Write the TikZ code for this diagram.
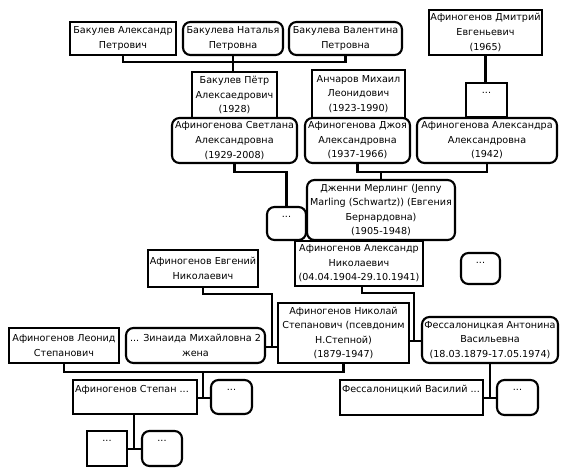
\documentclass[tikz,border=0pt]{standalone}
\usepackage{fontspec}
\setmainfont{DejaVu Sans}
\usetikzlibrary{calc}
\newcommand\fnt{\fontsize{9.6}{14.6}\selectfont}
\tikzset{
  box/.style={draw, line width=2.1pt, inner sep=0pt, outer sep=0pt, align=center, font=\fnt},
  sqbox/.style={box},
  rdbox/.style={box, rounded corners=7.5pt},
  link/.style={line width=2.1pt}
}
\newcommand\bx[7]{\node[#2, minimum width={(#5-#3)*1pt}, minimum height={(#6-#4)*1pt}] (#1) at ({(#3+#5)/2},{(#4+#6)/2}) {#7};}
\newcommand\topleft[3]{\parbox[c][#2pt][t]{#1pt}{\raggedright\strut\mbox{#3}}}
\newcommand\topdots[2]{\parbox[c][#2pt][t]{#1pt}{\centering\strut...}}
\begin{document}
\begin{tikzpicture}[x=1pt,y=-1pt]
\useasboundingbox (0,0) rectangle (568,476);
% generation 1
\bx{A1}{sqbox}{70}{22}{176}{55}{Бакулев Александр\\Петрович}
\bx{A2}{rdbox}{183}{22}{283}{55}{Бакулева Наталья\\Петровна}
\bx{A3}{rdbox}{289}{22}{402}{55}{Бакулева Валентина\\Петровна}
\bx{D1}{sqbox}{429}{10}{542}{55}{Афиногенов Дмитрий\\Евгеньевич\\(1965)}
% generation 2
\bx{B1}{sqbox}{192}{72}{277}{118}{Бакулев Пётр\\Алексаедрович\\(1928)}
\bx{B2}{sqbox}{312}{70}{405}{118}{Анчаров Михаил\\Леонидович\\(1923-1990)}
\bx{D2}{sqbox}{466}{83}{507}{117}{\topdots{40}{33}}
% generation 3
\bx{C1}{rdbox}{172}{118}{297}{163}{Афиногенова Светлана\\Александровна\\(1929-2008)}
\bx{C2}{rdbox}{305}{118}{410}{163}{Афиногенова Джоя\\Александровна\\(1937-1966)}
\bx{C3}{rdbox}{417}{118}{557}{163}{Афиногенова Александра\\Александровна\\(1942)}
% generation 4
\bx{E1}{rdbox}{267}{207}{306}{240}{\topdots{38}{32}}
\bx{E2}{rdbox}{307}{180}{455}{240}{Дженни Мерлинг (Jenny\\Marling (Schwartz)) (Евгения\\Бернардовна)\\(1905-1948)}
% generation 5
\bx{F1}{sqbox}{295}{241}{423}{286}{Афиногенов Александр\\Николаевич\\(04.04.1904-29.10.1941)}
\bx{F2}{rdbox}{461}{253}{500}{284}{\topdots{38}{30}}
\bx{G1}{sqbox}{148}{250}{258}{287}{Афиногенов Евгений\\Николаевич}
% generation 6
\bx{H1}{sqbox}{278}{303}{409}{363}{Афиногенов Николай\\Степанович (псевдоним\\Н.Степной)\\(1879-1947)}
\bx{H2}{rdbox}{422}{317}{558}{363}{Фессалоницкая Антонина\\Васильевна\\(18.03.1879-17.05.1974)}
\bx{I1}{sqbox}{9}{328}{119}{363}{Афиногенов Леонид\\Степанович}
\bx{I2}{rdbox}{126}{328}{265}{363}{... Зинаида Михайловна 2\\жена}
% generation 7
\bx{J1}{sqbox}{73}{380}{197}{414}{\topleft{120}{30}{Афиногенов Степан ...}}
\bx{J2}{rdbox}{211}{380}{252}{414}{\topdots{40}{33}}
\bx{K1}{sqbox}{340}{380}{483}{415}{\topleft{139}{31}{Фессалоницкий Василий ...}}
\bx{K2}{rdbox}{497}{380}{538}{415}{\topdots{40}{34}}
% generation 8
\bx{L1}{sqbox}{87}{431}{127}{466}{\topdots{39}{34}}
\bx{L2}{rdbox}{142}{431}{182}{466}{\topdots{39}{34}}
% connectors
\draw[link] (A1.south) -- ++(0,7) -| (A3.south);
\draw[link] (A2.south) -- (A2.south |- B1.north);
\draw[link] (D1.south) -- (D1.south |- D2.north);
\draw[link] (C1.south) -- ++(0,9) -| (E1.north);
\coordinate (cb) at ($(C2.south)+(0,9)$);
\draw[link] (C2.south) -- (cb) -| (C3.south);
\draw[link] (E2.north) -- (E2.north |- cb);
\coordinate (fb) at (362,293);
\coordinate (fj) at (414,341);
\draw[link] (F1.south -| fb) -- (fb) -| (fj);
\draw[link] (H1.east |- fj) -- (H2.west |- fj);
\coordinate (gj) at (272,347);
\draw[link] (G1.south) -- ++(0,7) -| (gj);
\draw[link] (I2.east |- gj) -- (H1.west |- gj);
\coordinate (ib) at ($(I1.south)+(0,9)$);
\draw[link] (I1.south) -- (ib) -| (H1.south);
\coordinate (jj) at (203,398);
\draw[link] (ib -| jj) -- (jj);
\draw[link] (J1.east |- jj) -- (J2.west |- jj);
\coordinate (lj) at (134,449);
\draw[link] (J1.south -| lj) -- (lj);
\draw[link] (L1.east |- lj) -- (L2.west |- lj);
\coordinate (kj) at (490,398);
\draw[link] (H2.south -| kj) -- (kj);
\draw[link] (K1.east |- kj) -- (K2.west |- kj);
\end{tikzpicture}
\end{document}
